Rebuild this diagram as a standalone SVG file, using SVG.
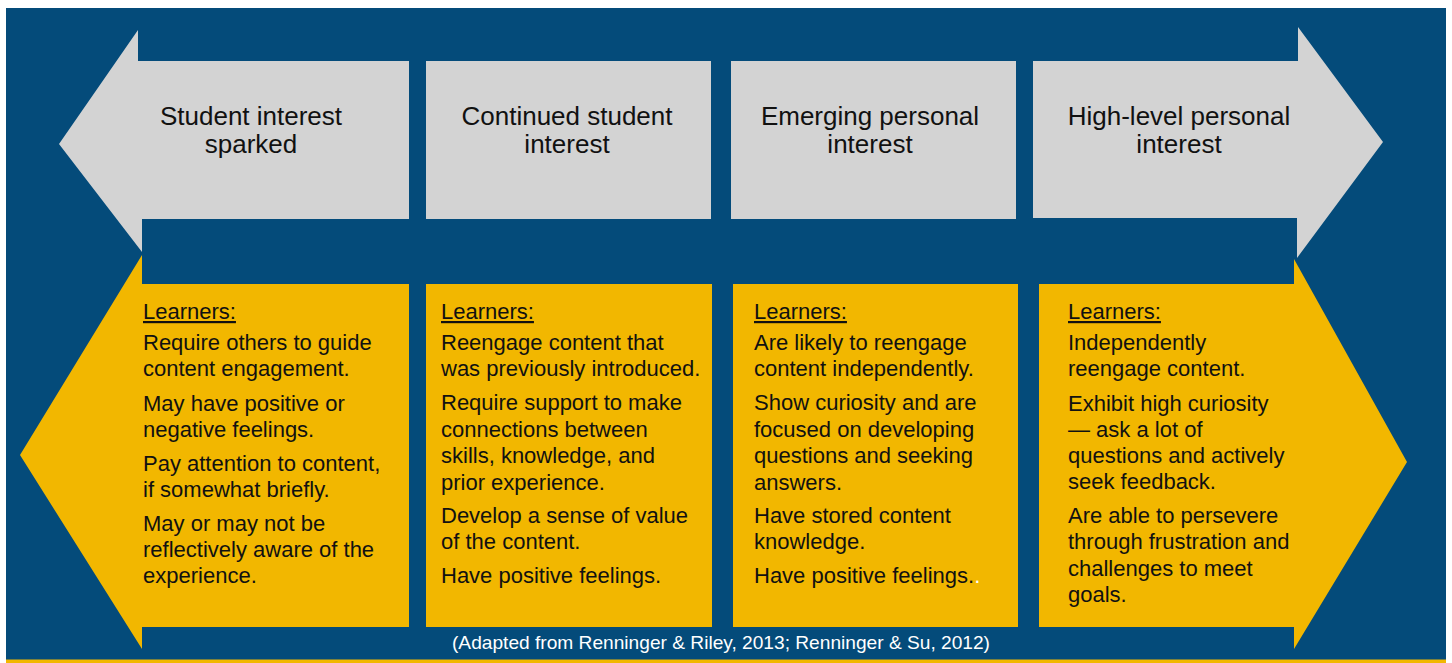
<svg xmlns="http://www.w3.org/2000/svg" width="1452" height="663" viewBox="0 0 1452 663">
  <style>
    .bg { fill: #044b7a; }
    .head { fill: #d3d3d3; }
    .body { fill: #f2b700; }
    .title { font-family: "Liberation Sans", Arial, sans-serif; font-size: 26px; fill: #111; text-anchor: middle; }
    .txt { font-family: "Liberation Sans", Arial, sans-serif; font-size: 22px; fill: #111; }
    .lbl { text-decoration: underline; }
    .cap { font-family: "Liberation Sans", Arial, sans-serif; font-size: 19px; fill: #ffffff; text-anchor: middle; }
  </style>

  <!-- page -->
  <rect x="0" y="0" width="1452" height="663" fill="#ffffff"/>
  <rect class="bg" x="6" y="8" width="1440" height="652"/>
  <rect x="6" y="659.5" width="1440" height="3.5" fill="#f2b700"/>

  <!-- stage headers (grey double-headed arrow split in four) -->
  <g id="header-1">
    <polygon class="head" points="409,61 138,61 138,30 59,144 142,252 142,219 409,219"/>
    <text class="title" x="251" y="124.5">Student interest</text>
    <text class="title" x="251" y="152.5">sparked</text>
  </g>
  <g id="header-2">
    <rect class="head" x="426" y="61" width="285" height="158"/>
    <text class="title" x="567" y="124.5">Continued student</text>
    <text class="title" x="567" y="152.5">interest</text>
  </g>
  <g id="header-3">
    <rect class="head" x="731" y="61" width="285" height="158"/>
    <text class="title" x="870" y="124.5">Emerging personal</text>
    <text class="title" x="870" y="152.5">interest</text>
  </g>
  <g id="header-4">
    <polygon class="head" points="1033,61 1298,61 1298,27 1383,142 1297,258 1297,218 1033,218"/>
    <text class="title" x="1179" y="124.5">High-level personal</text>
    <text class="title" x="1179" y="152.5">interest</text>
  </g>

  <!-- stage descriptions (yellow double-headed arrow split in four) -->
  <g id="detail-1">
    <polygon class="body" points="409,284 142,284 142,255 20,455 142,649 142,627 409,627"/>
    <g class="txt">
      <text class="lbl" x="143" y="319">Learners:</text>
      <text x="143" y="350">Require others to guide</text>
      <text x="143" y="376">content engagement.</text>
      <text x="143" y="411">May have positive or</text>
      <text x="143" y="437">negative feelings.</text>
      <text x="143" y="471">Pay attention to content,</text>
      <text x="143" y="497">if somewhat briefly.</text>
      <text x="143" y="531">May or may not be</text>
      <text x="143" y="557">reflectively aware of the</text>
      <text x="143" y="583">experience.</text>
    </g>
  </g>
  <g id="detail-2">
    <rect class="body" x="426" y="284" width="286" height="343"/>
    <g class="txt">
      <text class="lbl" x="441" y="319">Learners:</text>
      <text x="441" y="350">Reengage content that</text>
      <text x="441" y="376">was previously introduced.</text>
      <text x="441" y="410">Require support to make</text>
      <text x="441" y="437">connections between</text>
      <text x="441" y="463">skills, knowledge, and</text>
      <text x="441" y="490">prior experience.</text>
      <text x="441" y="523">Develop a sense of value</text>
      <text x="441" y="549">of the content.</text>
      <text x="441" y="583">Have positive feelings.</text>
    </g>
  </g>
  <g id="detail-3">
    <rect class="body" x="733" y="284" width="285" height="343"/>
    <g class="txt">
      <text class="lbl" x="754" y="319">Learners:</text>
      <text x="754" y="350">Are likely to reengage</text>
      <text x="754" y="376">content independently.</text>
      <text x="754" y="410">Show curiosity and are</text>
      <text x="754" y="437">focused on developing</text>
      <text x="754" y="463">questions and seeking</text>
      <text x="754" y="490">answers.</text>
      <text x="754" y="523">Have stored content</text>
      <text x="754" y="549">knowledge.</text>
      <text x="754" y="583">Have positive feelings.<tspan fill="#ffffff">.</tspan></text>
    </g>
  </g>
  <g id="detail-4">
    <polygon class="body" points="1039,284 1294,284 1294,259 1407,462 1294,649 1294,627 1039,627"/>
    <g class="txt">
      <text class="lbl" x="1068" y="319">Learners:</text>
      <text x="1068" y="350">Independently</text>
      <text x="1068" y="376">reengage content.</text>
      <text x="1068" y="411">Exhibit high curiosity</text>
      <text x="1068" y="437">— ask a lot of</text>
      <text x="1068" y="463">questions and actively</text>
      <text x="1068" y="489">seek feedback.</text>
      <text x="1068" y="523">Are able to persevere</text>
      <text x="1068" y="549">through frustration and</text>
      <text x="1068" y="576">challenges to meet</text>
      <text x="1068" y="602">goals.</text>
    </g>
  </g>

  <!-- source note -->
  <text id="source" class="cap" x="721" y="649" textLength="538" lengthAdjust="spacingAndGlyphs">(Adapted from Renninger &amp; Riley, 2013; Renninger &amp; Su, 2012)</text>
</svg>
